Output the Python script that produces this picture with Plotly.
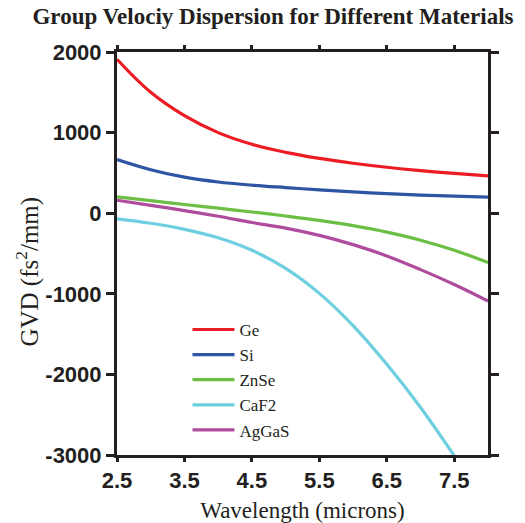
import plotly.graph_objects as go

# Wavelength grid (microns)
wavelength = [2.5, 3.0, 3.5, 4.0, 4.5, 5.0, 5.5, 6.0, 6.5, 7.0, 7.5, 8.0]

# Group velocity dispersion (fs^2/mm) per material
gvd_ge = [1910, 1500, 1210, 1000, 855, 755, 680, 620, 570, 528, 493, 463]
gvd_si = [666, 540, 447, 387, 348, 318, 290, 264, 242, 225, 211, 199]
gvd_znse = [202, 155, 108, 62, 15, -35, -90, -155, -235, -335, -460, -612]
gvd_caf2 = [-70, -125, -200, -305, -460, -685, -995, -1395, -1875, -2410, -3010, None]
gvd_aggas = [161, 98, 32, -38, -115, -185, -275, -390, -530, -700, -885, -1090]

materials = ["Ge", "Si", "ZnSe", "CaF2", "AgGaS"]
series = [gvd_ge, gvd_si, gvd_znse, gvd_caf2, gvd_aggas]
colors = ["#ED1C24", "#2E54A4", "#6CBE45", "#6DCFDF", "#B04C9E"]

x_ticks = [2.5, 3.5, 4.5, 5.5, 6.5, 7.5]
y_ticks = [-3000, -2000, -1000, 0, 1000, 2000]

INK = "#231F20"

fig = go.Figure()
for name, vals, col in zip(materials, series, colors):
    fig.add_trace(go.Scatter(
        x=wavelength, y=vals, name=name, mode="lines",
        line=dict(color=col, width=3.2, shape="spline", smoothing=1.1),
        connectgaps=False,
    ))

tick_font = dict(family="Liberation Sans", size=22, color=INK, weight="bold")
axis_common = dict(
    showline=True, linecolor=INK, linewidth=3,
    mirror="ticks", ticks="outside", tickwidth=3,
    tickcolor=INK, showgrid=False, zeroline=False,
    tickfont=tick_font, automargin=False,
)

fig.update_layout(
    width=525, height=523,
    margin=dict(l=117, r=37, t=52, b=68),
    paper_bgcolor="white", plot_bgcolor="white",
    title=dict(
        text="<b>Group Velociy Dispersion for Different Materials</b>",
        x=0.52, xanchor="center", y=0.985, yanchor="top",
        font=dict(family="Liberation Serif", size=23, color=INK),
    ),
    xaxis=dict(
        range=[2.5, 8.0], tickvals=x_ticks, ticktext=[str(v) for v in x_ticks],
        ticklen=4,
        title=dict(text="Wavelength (microns)", standoff=10,
                   font=dict(family="Liberation Serif", size=23, color=INK)),
        **axis_common,
    ),
    yaxis=dict(
        range=[-3000, 2000], tickvals=y_ticks, ticktext=[str(v) for v in y_ticks],
        ticklen=8,
        **axis_common,
    ),
    legend=dict(
        x=0.19, y=0.355, xanchor="left", yanchor="top",
        bgcolor="rgba(0,0,0,0)",
        font=dict(family="Liberation Serif", size=17, color=INK),
        tracegroupgap=0, itemwidth=42,
    ),
    showlegend=True,
)

# Y-axis title placed as a rotated annotation, sitting a little below the plot's mid-height
fig.add_annotation(
    text="GVD (fs<sup>2</sup>/mm)", textangle=-90,
    xref="paper", yref="paper", x=-0.24, y=0.455,
    xanchor="center", yanchor="middle", showarrow=False,
    font=dict(family="Liberation Serif", size=25, color=INK),
)

fig.write_html("out.html")
